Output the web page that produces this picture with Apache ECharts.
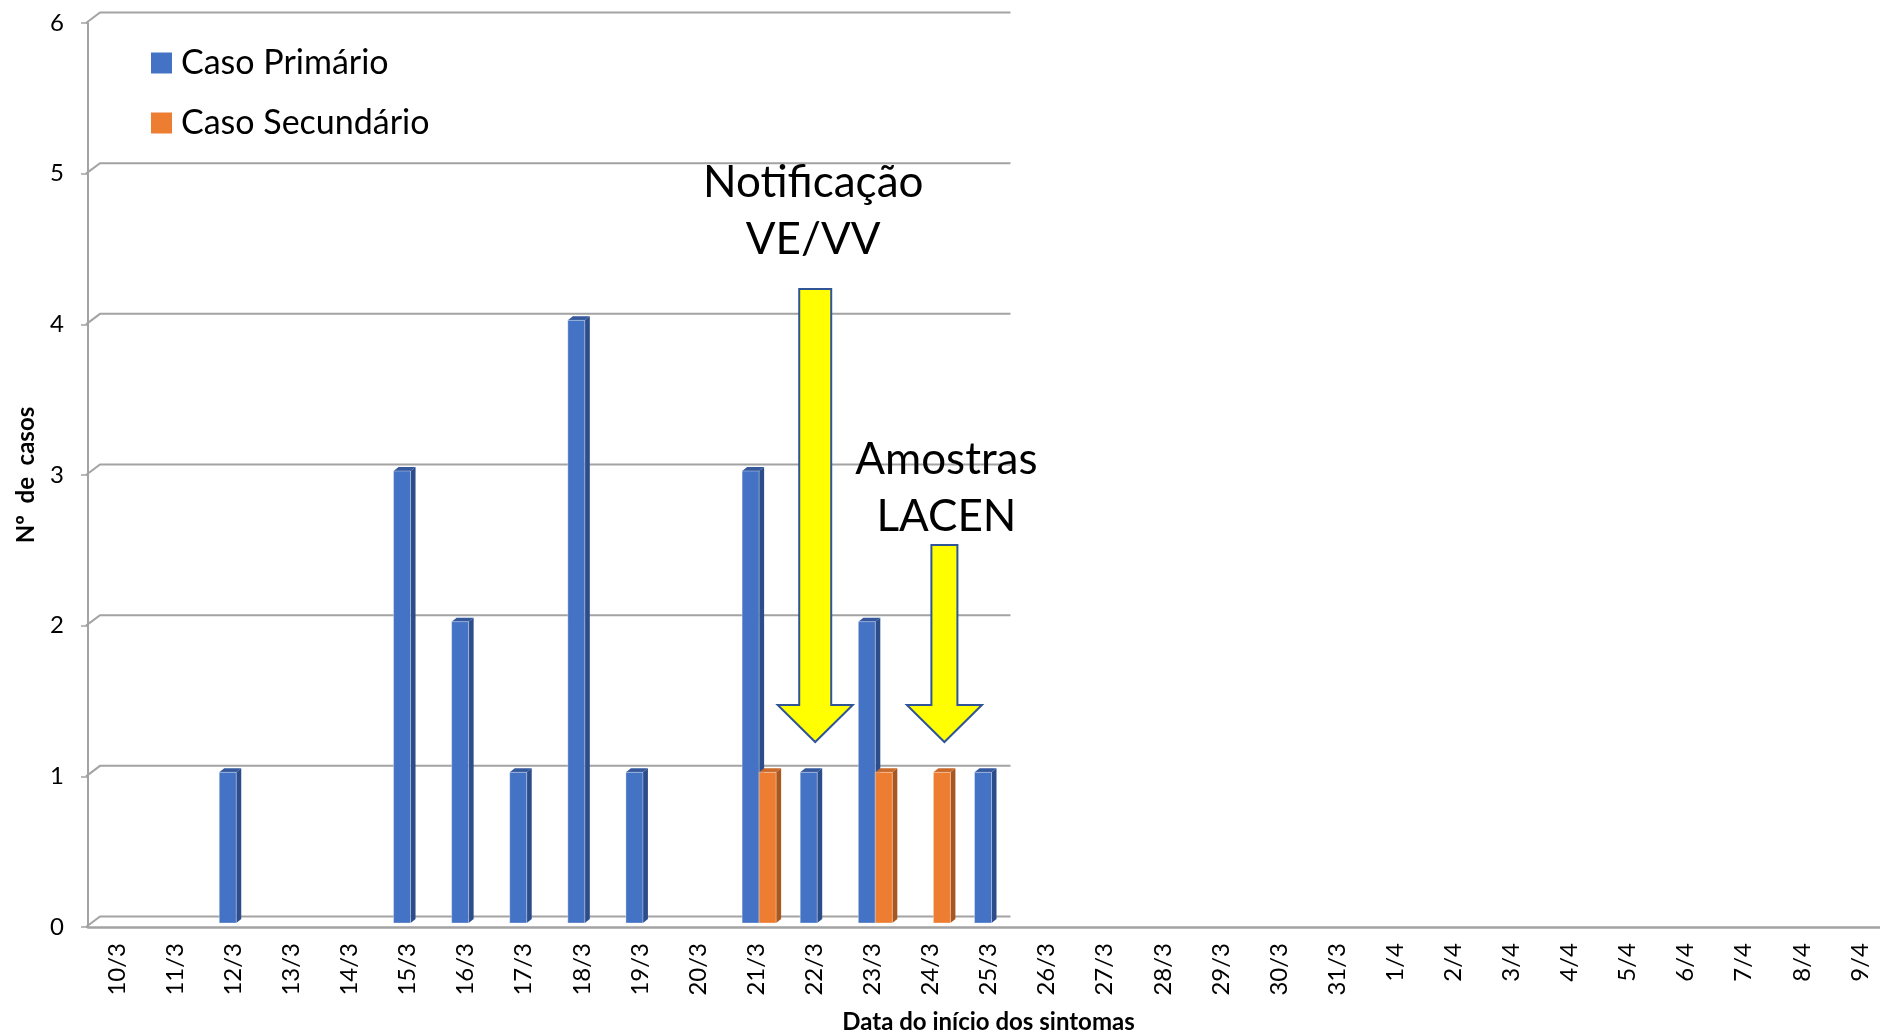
<!DOCTYPE html>
<html>
<head>
<meta charset="utf-8">
<script src="https://cdn.jsdelivr.net/npm/echarts@6/dist/echarts.min.js"></script>
<style>
  html, body { margin: 0; padding: 0; background: #ffffff; }
  #chart { width: 1880px; height: 1032px; }
</style>
</head>
<body>
<div id="chart"></div>
<script>
// Dates of symptom onset (day/month)
const categories = [
  '10/3', '11/3', '12/3', '13/3', '14/3', '15/3', '16/3', '17/3', '18/3', '19/3',
  '20/3', '21/3', '22/3', '23/3', '24/3', '25/3', '26/3', '27/3', '28/3', '29/3',
  '30/3', '31/3', '1/4', '2/4', '3/4', '4/4', '5/4', '6/4', '7/4', '8/4', '9/4'
];
// Number of cases per day
const casoPrimario = [
  0, 0, 1, 0, 0, 3, 2, 1, 4, 1,
  0, 3, 1, 2, 0, 1, 0, 0, 0, 0,
  0, 0, 0, 0, 0, 0, 0, 0, 0, 0, 0
];
const casoSecundario = [
  0, 0, 0, 0, 0, 0, 0, 0, 0, 0,
  0, 1, 0, 1, 1, 0, 0, 0, 0, 0,
  0, 0, 0, 0, 0, 0, 0, 0, 0, 0, 0
];
const yTicks = [0, 1, 2, 3, 4, 5, 6];
const seriesNames = ['Caso Primário', 'Caso Secundário'];
const lastReportedDay = '25/3';

const FONT = 'Lato, "Open Sans", sans-serif';
const GRID_GRAY = '#a3a3a3';
const DEPTH_X = 14, DEPTH_Y = -10.5;   // back-wall offset of the pseudo-3D frame
const BAR_DX = 5, BAR_DY = -4;         // bar depth (side/top faces)
const BAR_W = 17;

const chart = echarts.init(document.getElementById('chart'), null, { renderer: 'canvas' });

// Back wall gridlines drawn as a 3D frame
function renderWall(params, api) {
  const cs = params.coordSys;
  const v = api.value(1);
  const y = api.coord([0, v])[1];
  const x0 = cs.x - 2;
  const xEnd = api.coord([categories.indexOf(lastReportedDay), 0])[0] + 22;
  return {
    type: 'polyline',
    shape: { points: [[x0, y], [x0 + DEPTH_X, y + DEPTH_Y], [xEnd, y + DEPTH_Y]] },
    style: { stroke: GRID_GRAY, lineWidth: 2, fill: null },
    silent: true
  };
}

// 3D-looking column: front face, side face and top face
function barRenderer(slotOffset, front, side, top) {
  return function (params, api) {
    const i = api.value(0);
    const v = api.value(1);
    if (!v) return null;
    const c0 = api.coord([i, 0]);
    const c1 = api.coord([i, v]);
    const xl = c0[0] + slotOffset;
    const xr = xl + BAR_W;
    const yb = c0[1] - 4;
    const yt = c1[1] - 4;
    return {
      type: 'group',
      children: [
        { type: 'polygon', shape: { points: [[xr, yt], [xr + BAR_DX, yt + BAR_DY], [xr + BAR_DX, yb + BAR_DY], [xr, yb]] },
          style: { fill: side } },
        { type: 'polygon', shape: { points: [[xl, yt], [xl + BAR_DX, yt + BAR_DY], [xr + BAR_DX, yt + BAR_DY], [xr, yt]] },
          style: { fill: top } },
        { type: 'rect', shape: { x: xl, y: yt, width: BAR_W, height: yb - yt },
          style: { fill: front, stroke: 'rgba(255,255,255,0.35)', lineWidth: 1 } }
      ]
    };
  };
}

chart.setOption({
  animation: false,
  backgroundColor: '#ffffff',
  textStyle: { fontFamily: FONT },
  grid: { left: 88, top: 23, width: 1801, height: 904, containLabel: false, outerBoundsMode: 'none' },
  legend: {
    data: seriesNames,
    orient: 'vertical',
    left: 146,
    top: 41,
    icon: 'rect',
    itemWidth: 21,
    itemHeight: 21,
    itemGap: 26,
    textStyle: { fontSize: 34, color: '#000', fontFamily: FONT, lineHeight: 34, padding: [0, 0, 0, 4] },
    selectedMode: false
  },
  xAxis: {
    type: 'category',
    data: categories,
    boundaryGap: true,
    axisLine: { lineStyle: { color: GRID_GRAY, width: 2.5 } },
    axisTick: { show: false },
    axisLabel: { rotate: 90, fontSize: 24, color: '#000', margin: 16, interval: 0, fontFamily: FONT },
    splitLine: { show: false },
    name: 'Data do início dos sintomas',
    nameLocation: 'middle',
    nameGap: 83,
    nameTextStyle: { fontSize: 24, fontWeight: 'bold', color: '#000', fontFamily: FONT }
  },
  yAxis: {
    type: 'value',
    min: 0,
    max: 6,
    interval: 1,
    axisLine: { show: true, lineStyle: { color: GRID_GRAY, width: 2 } },
    axisTick: { show: true, length: 7, lineStyle: { color: GRID_GRAY, width: 1.5 } },
    axisLabel: { fontSize: 24, color: '#000', margin: 24, fontFamily: FONT },
    splitLine: { show: false },
    name: 'Nº  de  casos',
    nameLocation: 'middle',
    nameGap: 50,
    nameTextStyle: { fontSize: 24, fontWeight: 'bold', color: '#000', fontFamily: FONT }
  },
  series: [
    {
      name: 'wall',
      type: 'custom',
      renderItem: renderWall,
      data: yTicks.map(v => [0, v]),
      z: 1,
      silent: true,
      tooltip: { show: false }
    },
    {
      name: seriesNames[0],
      type: 'custom',
      renderItem: barRenderer(-14, '#4472c4', '#2c4d8a', '#35599c'),
      data: casoPrimario.map((v, i) => [i, v]),
      itemStyle: { color: '#4472c4' },
      z: 3
    },
    {
      name: seriesNames[1],
      type: 'custom',
      renderItem: barRenderer(3, '#ed7d31', '#a9571f', '#c9692a'),
      data: casoSecundario.map((v, i) => [i, v]),
      itemStyle: { color: '#ed7d31' },
      z: 3
    }
  ]
});

// Annotation arrows and captions, placed through the chart's own axes
function px(cat, value) {
  return chart.convertToPixel({ gridIndex: 0 }, [categories.indexOf(cat), value]);
}
function arrow(cat, dx, shaftHalf, topVal, headVal, tipVal) {
  const cx = px(cat, 0)[0] + dx;
  const yTop = px(cat, topVal)[1];
  const yHead = px(cat, headVal)[1];
  const yTip = px(cat, tipVal)[1];
  const hh = 37.5;
  return {
    type: 'polygon',
    z: 100,
    shape: { points: [
      [cx - shaftHalf, yTop], [cx + shaftHalf, yTop], [cx + shaftHalf, yHead],
      [cx + hh, yHead], [cx, yTip], [cx - hh, yHead], [cx - shaftHalf, yHead]
    ] },
    style: { fill: '#ffff00', stroke: '#2f5597', lineWidth: 2 }
  };
}
function caption(cat, dx, value, text) {
  const p = px(cat, value);
  return {
    type: 'text',
    z: 100,
    x: p[0] + dx,
    y: p[1],
    style: {
      text: text,
      font: '44px ' + FONT,
      fill: '#000',
      textAlign: 'center',
      textVerticalAlign: 'middle',
      lineHeight: 57
    }
  };
}

chart.setOption({
  graphic: [
    arrow('22/3', 1, 16, 4.234, 1.473, 1.228),
    arrow('24/3', 14, 13, 2.535, 1.473, 1.228),
    caption('22/3', -1, 4.75, 'Notificação\nVE/VV'),
    caption('24/3', 16, 2.91, 'Amostras\nLACEN')
  ]
});
</script>
</body>
</html>
